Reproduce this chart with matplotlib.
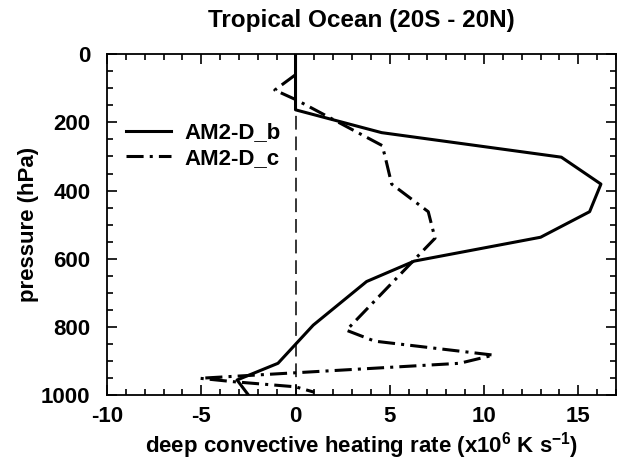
import matplotlib
matplotlib.use("Agg")
import matplotlib.pyplot as plt
from matplotlib.ticker import MultipleLocator

plt.rcParams['font.family'] = 'Liberation Sans'
plt.rcParams['font.weight'] = 'bold'
plt.rcParams['axes.unicode_minus'] = False
plt.rcParams['mathtext.fontset'] = 'custom'
plt.rcParams['mathtext.rm'] = 'Liberation Sans:bold'
plt.rcParams['mathtext.bf'] = 'Liberation Sans:bold'
plt.rcParams['mathtext.default'] = 'bf'

# deep convective heating profiles, tropical ocean mean
heat_b = [0.0, 0.0, 4.57, 14.1, 16.2, 15.6, 13.0, 6.3, 3.77, 0.94, -0.93, -3.1, -2.5]
pres_b = [0, 163, 230, 302, 381, 462, 537, 607, 667, 795, 907, 956, 1000]

heat_c = [0.0, -1.1, 0.05, 4.6, 4.75, 5.1, 7.04, 7.4, 2.7, 4.2, 10.5, 8.7, -5.07, -3.3, 0.0, 1.0]
pres_c = [60, 105, 134, 268, 300, 381, 462, 540, 810, 842, 883, 907, 951, 961, 976, 992]

fig = plt.figure(figsize=(6.17, 4.66), dpi=100)
ax = fig.add_axes([0.1734, 0.1524, 0.8250, 0.7311])

ax.plot([0, 0], [0, 1000], color='black', lw=1.1, linestyle=(0, (9, 4.5)))
ax.plot(heat_b, pres_b, color='black', lw=2.2, label='AM2-D_b')
ax.plot(heat_c, pres_c, color='black', lw=2.2, linestyle=(0, (5.6, 2.0, 1.0, 2.0)),
        label='AM2-D_c')

ax.set_xlim(-10, 17)
ax.set_ylim(1000, 0)
ax.xaxis.set_major_locator(MultipleLocator(5))
ax.xaxis.set_minor_locator(MultipleLocator(1))
ax.yaxis.set_major_locator(MultipleLocator(200))
ax.yaxis.set_minor_locator(MultipleLocator(50))
ax.tick_params(which='both', direction='in', top=True, right=True, width=1.2)
ax.tick_params(which='major', length=7)
ax.tick_params(which='minor', length=4)
ax.tick_params(axis='x', which='major', pad=8, labelsize=16)
ax.tick_params(axis='y', which='major', pad=12, labelsize=16)
for sp in ax.spines.values():
    sp.set_linewidth(1.3)

ax.set_title('Tropical Ocean (20S - 20N)', fontsize=17.5, fontweight='bold', pad=20)
ax.set_xlabel(r'deep convective heating rate (x10$^{6}$ K s$^{-1}$)',
              fontsize=16, fontweight='bold', labelpad=2)
ax.set_ylabel('pressure (hPa)', fontsize=16, fontweight='bold', labelpad=1)

ax.legend(loc='upper left', bbox_to_anchor=(0.038, 0.80), frameon=False,
          borderpad=0, borderaxespad=0, fontsize=16, handlelength=2.0,
          handletextpad=0.6, labelspacing=0.2)

fig.savefig('out.png', dpi=100)
